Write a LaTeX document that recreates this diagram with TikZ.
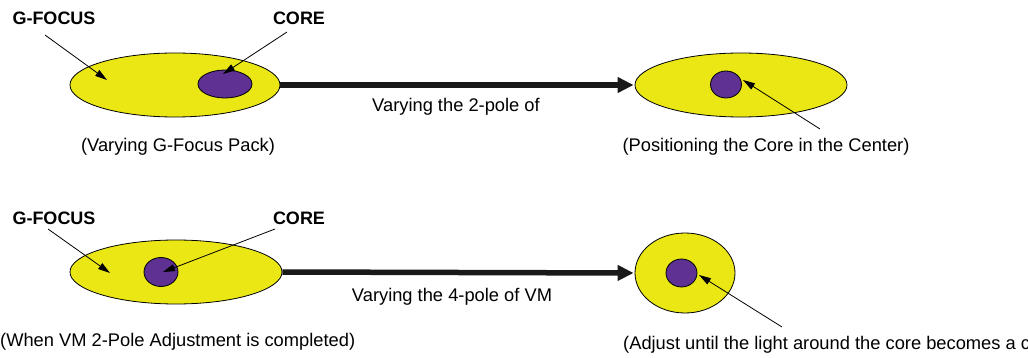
\documentclass[tikz,border=0pt]{standalone}
\usepackage{fontspec}
\setmainfont{Liberation Sans}
\usetikzlibrary{arrows.meta,shapes.geometric}
\definecolor{gyellow}{HTML}{EAE714}
\definecolor{cpurple}{HTML}{5E3193}
\tikzset{
  gfocus/.style={ellipse,draw=black,line width=0.8pt,fill=gyellow,inner sep=0pt,minimum width=#1},
  corebox/.style={ellipse,draw=black,line width=0.8pt,fill=cpurple,inner sep=0pt},
  lbl/.style={font=\fontsize{18}{21}\selectfont\bfseries,inner sep=0pt},
  captxt/.style={font=\fontsize{18.3}{21}\selectfont,inner sep=0pt},
  thinarr/.style={draw=black,line width=0.8pt,-{Triangle[length=12pt,width=7pt]}},
  bigarrow/.style={draw=black!90,line width=5.5pt,-{Triangle[length=16pt,width=15pt]},shorten >=1pt}
}
\begin{document}
\begin{tikzpicture}[x=1pt,y=-1pt]
\useasboundingbox (0,0) rectangle (1028,358);
\clip (0,0) rectangle (1028,358);
% ---- top row
\node[gfocus=210pt,minimum height=64pt] (e1) at (175,85) {};
\node[corebox,minimum width=54pt,minimum height=28pt] (c1) at (225,84) {};
\node[gfocus=212pt,minimum height=64pt] (e2) at (741,85) {};
\node[corebox,minimum width=31pt,minimum height=27pt] (c2) at (726,84.5) {};
\node[lbl] (gl1) at (54,18) {G-FOCUS};
\node[lbl] (cl1) at (299,18) {CORE};
\node[captxt] (cap1) at (178,147) {(Varying G-Focus Pack)};
\node[captxt] (cap2) at (766,147) {(Positioning the Core in the Center)};
\node[captxt] (m1) at (456,107) {Varying the 2-pole of};
\coordinate (g1s) at (45,35);
\coordinate (g1e) at (107,80);
\coordinate (k1s) at (287,32);
\coordinate (k1e) at (223,74);
\coordinate (k2s) at (820,129);
\coordinate (k2e) at (743,80);
\draw[thinarr] (g1s) -- (g1e);
\draw[thinarr] (k1s) -- (k1e);
\draw[thinarr] (k2s) -- (k2e);
\draw[bigarrow] (e1.east) -- (e2.west);
% ---- bottom row
\node[gfocus=212pt,minimum height=64pt] (e3) at (176,272) {};
\node[corebox,minimum width=34pt,minimum height=29pt] (c3) at (161,272) {};
\node[gfocus=100pt,minimum height=80pt] (e4) at (685,273) {};
\node[corebox,minimum width=31pt,minimum height=28pt] (c4) at (681.5,273) {};
\node[lbl] (gl2) at (54,218) {G-FOCUS};
\node[lbl] (cl2) at (299,218) {CORE};
\node[captxt,anchor=west] (cap3) at (0,342) {(When VM 2-Pole Adjustment is completed)};
\node[captxt,anchor=west] (cap4) at (623,345) {(Adjust until the light around the core becomes a circle)};
\node[captxt] (m2) at (452,297) {Varying the 4-pole of VM};
\coordinate (g2s) at (48,229);
\coordinate (g2e) at (110,273);
\coordinate (k3s) at (275,229);
\coordinate (k3e) at (163,272);
\coordinate (k4s) at (782,327);
\coordinate (k4e) at (699,275);
\draw[thinarr] (g2s) -- (g2e);
\draw[thinarr] (k3s) -- (k3e);
\draw[thinarr] (k4s) -- (k4e);
\draw[bigarrow] (e3.east) -- (e4.west);
\end{tikzpicture}
\end{document}
